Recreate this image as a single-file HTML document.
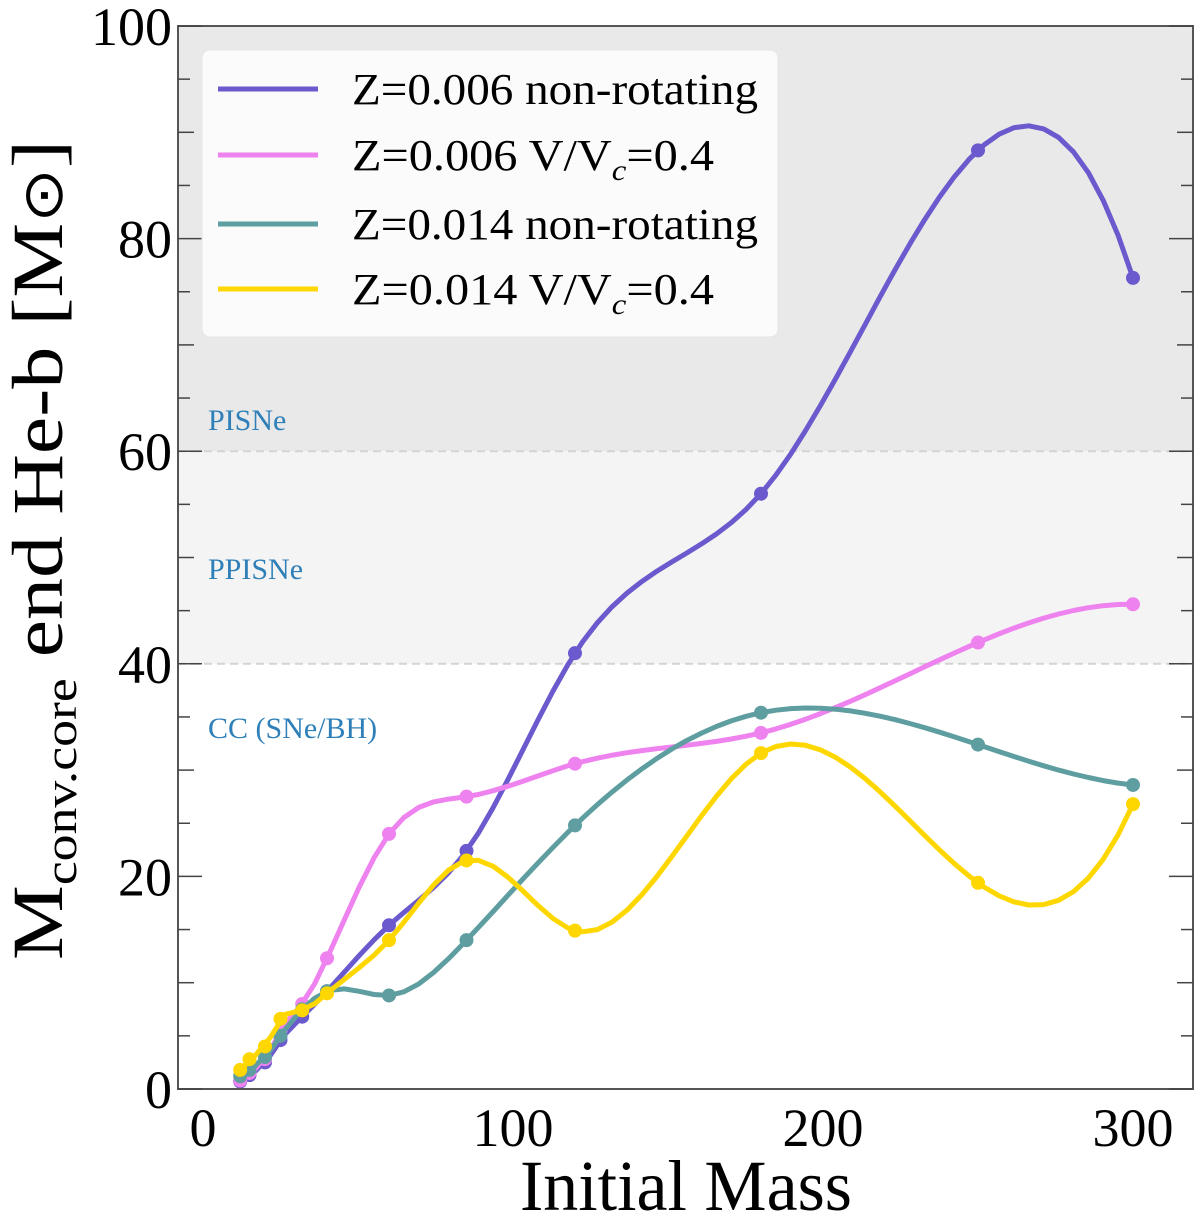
<!DOCTYPE html>
<html><head><meta charset="utf-8"><style>
body{margin:0;background:#fff;}
svg{display:block;font-family:"Liberation Serif",serif;}
</style></head><body>
<svg id="chart" width="1200" height="1229" viewBox="0 0 1200 1229" xmlns="http://www.w3.org/2000/svg">
<g id="bg"></g>
<g id="grid"></g>
<g id="series"></g>
<g id="axes"></g>
<g id="legend"></g>
</svg>
<script>
const masses = [12,15,20,25,32,40,60,85,120,180,250,300];
const zLowNonRot = [0.7,1.3,2.5,4.6,6.8,9.2,15.4,22.4,41,56,88.3,76.3];
const zLowRot = [0.8,1.5,2.8,5.5,8,12.3,24,27.5,30.6,33.5,42,45.6];
const zHighNonRot = [1.2,1.8,3,5,7.5,9.2,8.8,14,24.8,35.4,32.4,28.6];
const zHighRot = [1.8,2.8,4,6.6,7.4,9,14,21.5,14.9,31.6,19.4,26.8];
const xTicks = [0,100,200,300];
const yTicks = [0,20,40,60,80,100];
const seriesNames = ["Z=0.006 non-rotating","Z=0.006 V/V_c=0.4","Z=0.014 non-rotating","Z=0.014 V/V_c=0.4"];
const regionLabels = ["PISNe","PPISNe","CC (SNe/BH)"];
const regionLabelY = [62,48,33];

const L=178,R=1193,T=26,B=1089;
const X=v=>203+v*3.1;
const Y=v=>B-(v/100)*(B-T);
const NS="http://www.w3.org/2000/svg";
function mk(tag,attrs,parent){const e=document.createElementNS(NS,tag);for(const k in attrs)e.setAttribute(k,attrs[k]);parent.appendChild(e);return e;}
const bg=document.getElementById('bg'),grid=document.getElementById('grid'),ser=document.getElementById('series'),ax=document.getElementById('axes'),lg=document.getElementById('legend');

let r1=mk('rect',{x:L,y:Y(100),width:R-L,height:Y(60)-Y(100),fill:'#e9e9e9'},bg);


let r2=mk('rect',{x:L,y:Y(60),width:R-L,height:Y(40)-Y(60),fill:'#f4f4f4'},bg);


[40,60].forEach(v=>{let l=mk('line',{x1:L,x2:R,y1:Y(v),y2:Y(v),stroke:'#d4d4d4','stroke-width':2,'stroke-dasharray':'8,5'},grid);

});
regionLabels.forEach((t,i)=>{let e=mk('text',{x:208,y:Y(regionLabelY[i]),'font-size':30,fill:'#2f7fb8'},grid);e.textContent=t;

});

function spline(xs,ys){const n=xs.length,h=[];
for(let i=0;i<n-1;i++)h.push(xs[i+1]-xs[i]);
const M=[];for(let i=0;i<n;i++)M.push(new Array(n+1).fill(0));
M[0][0]=h[1];M[0][1]=-(h[0]+h[1]);M[0][2]=h[0];
for(let i=1;i<n-1;i++){M[i][i-1]=h[i-1];M[i][i]=2*(h[i-1]+h[i]);M[i][i+1]=h[i];M[i][n]=6*((ys[i+1]-ys[i])/h[i]-(ys[i]-ys[i-1])/h[i-1]);}
const a=h[n-3],b=h[n-2];M[n-1][n-3]=b;M[n-1][n-2]=-(a+b);M[n-1][n-1]=a;
for(let c=0;c<n;c++){let p=c;for(let r=c+1;r<n;r++)if(Math.abs(M[r][c])>Math.abs(M[p][c]))p=r;[M[c],M[p]]=[M[p],M[c]];
for(let r=0;r<n;r++)if(r!==c){const f=M[r][c]/M[c][c];for(let k=c;k<=n;k++)M[r][k]-=f*M[c][k];}}
const m=M.map((row,i)=>row[n]/row[i]);
return x=>{let i=0;while(i<n-2&&x>xs[i+1])i++;const t=x-xs[i],hh=h[i];
return ys[i]+t*((ys[i+1]-ys[i])/hh-hh*(2*m[i]+m[i+1])/6)+t*t*m[i]/2+t*t*t*(m[i+1]-m[i])/(6*hh);};}

const colors=['#6a5acd','#ee82ee','#5f9ea0','#ffd700'];
const all=[zLowNonRot,zLowRot,zHighNonRot,zHighRot];
const snames=['series-z006-nonrot','series-z006-rot','series-z014-nonrot','series-z014-rot'];
all.forEach((ys,si)=>{const f=spline(masses,ys);let pts=[];const N=60;
for(let j=0;j<=N;j++){const x=masses[0]+(masses[masses.length-1]-masses[0])*j/N;pts.push(X(x).toFixed(1)+','+Y(f(x)).toFixed(1));}
const g=mk('g',{},ser);


const p=mk('polyline',{points:pts.join(' '),fill:'none',stroke:colors[si],'stroke-width':5,'stroke-linejoin':'round'},g);


masses.forEach((m,i)=>{const c=mk('circle',{cx:X(m),cy:Y(ys[i]),r:7,fill:colors[si]},g);

});});

const fr=mk('rect',{x:L,y:T,width:R-L,height:B-T,fill:'none',stroke:'#555','stroke-width':2},ax);


for(let v=0;v<=100;v+=5){const len=v%20===0?24:(v%10===0?16:12);
[[L,L+len],[R,R-len]].forEach(([a,b2])=>{const t=mk('line',{x1:a,x2:b2,y1:Y(v),y2:Y(v),stroke:'#444','stroke-width':1.5},ax);

});}
yTicks.forEach(v=>{const t=mk('text',{x:172,y:Y(v)+19,'font-size':54,'text-anchor':'end'},ax);t.textContent=v;

});
xTicks.forEach(v=>{const t=mk('text',{x:X(v),y:1146,'font-size':54,'text-anchor':'middle'},ax);t.textContent=v;

});
const xt=mk('text',{x:686,y:1210,'font-size':72,'text-anchor':'middle',textLength:332,lengthAdjust:'spacingAndGlyphs'},ax);xt.textContent='Initial Mass';


const yt=mk('text',{transform:'translate(62,550) rotate(-90)','font-size':72,'text-anchor':'middle',textLength:820,lengthAdjust:'spacingAndGlyphs'},ax);
yt.innerHTML='M<tspan font-size="46" dy="14">conv.core</tspan><tspan dy="-14"> end He-b [M</tspan><tspan font-size="56">⊙</tspan>]';



const lb=mk('rect',{x:202,y:50,width:576,height:287,rx:8,fill:'#fbfbfb',stroke:'#e6e6e6'},lg);


const rowY=[89,155,224,289];
const lens=[406,362,406,362];
seriesNames.forEach((n,i)=>{const g=mk('g',{},lg);


mk('line',{x1:218,x2:318,y1:rowY[i],y2:rowY[i],stroke:colors[i],'stroke-width':5},g);
const t=mk('text',{x:352,y:rowY[i]+15,'font-size':44,textLength:lens[i],lengthAdjust:'spacingAndGlyphs'},g);
if(n.includes('V/V_c')){const base=n.split(' V/V_c')[0];t.innerHTML=base+' V/V<tspan font-style="italic" font-size="30" dy="10">c</tspan><tspan dy="-10">=0.4</tspan>';}else t.textContent=n;});
</script>
</body></html>
